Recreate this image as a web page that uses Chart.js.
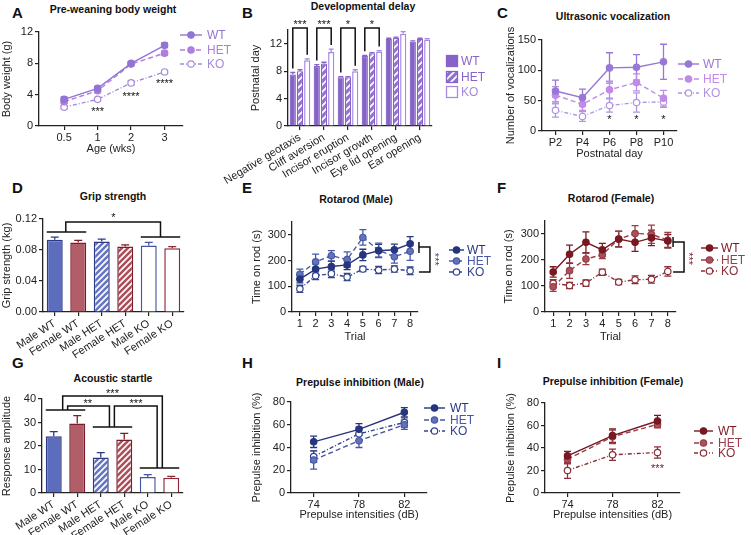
<!DOCTYPE html>
<html>
<head>
<meta charset="utf-8">
<script src="https://cdn.jsdelivr.net/npm/chart.js@4.4.0/dist/chart.umd.min.js"></script>
<style>
body { margin: 0; background: #fff; width: 751px; height: 535px; position: relative; overflow: hidden; font-family: "Liberation Sans", Arial, Helvetica, sans-serif; color: #111; }
.lt { position: absolute; font-weight: bold; font-size: 15px; line-height: 15px; }
.tt { position: absolute; font-weight: bold; font-size: 10.5px; line-height: 12px; white-space: nowrap; transform: translate(-50%, -50%); }
</style>
</head>
<body>
<div class="lt" style="left:12px;top:5px">A</div>
<div class="lt" style="left:242px;top:5px">B</div>
<div class="lt" style="left:497px;top:5px">C</div>
<div class="lt" style="left:12px;top:180px">D</div>
<div class="lt" style="left:242px;top:180px">E</div>
<div class="lt" style="left:497px;top:180px">F</div>
<div class="lt" style="left:12px;top:355px">G</div>
<div class="lt" style="left:242px;top:355px">H</div>
<div class="lt" style="left:497px;top:355px">I</div>
<div class="tt" style="left:113px;top:9px">Pre-weaning body weight</div>
<div class="tt" style="left:363px;top:6px">Developmental delay</div>
<div class="tt" style="left:613px;top:16px">Ultrasonic vocalization</div>
<div class="tt" style="left:113px;top:196px">Grip strength</div>
<div class="tt" style="left:356px;top:199px">Rotarod (Male)</div>
<div class="tt" style="left:611px;top:198px">Rotarod (Female)</div>
<div class="tt" style="left:113px;top:378px">Acoustic startle</div>
<div class="tt" style="left:360px;top:382px">Prepulse inhibition (Male)</div>
<div class="tt" style="left:613px;top:381px">Prepulse inhibition (Female)</div>
<script>
const FONT = '"Liberation Sans", Arial, Helvetica, sans-serif';
const INK = '#222';

// A: body weight
const ageLabels = ['0.5', '1', '2', '3'];
const weightWT = [3.4, 4.8, 8.0, 10.3];
const weightHET = [3.1, 4.5, 7.9, 9.3];
const weightKO = [2.4, 3.4, 5.5, 6.9];
const weightErrWT = [0.3, 0.25, 0.2, 0.3];
const weightErrHET = [0.25, 0.25, 0.2, 0.25];
const weightErrKO = [0.2, 0.2, 0.25, 0.2];

// B: developmental milestones
const devLabels = ['Negative geotaxis', 'Cliff aversion', 'Incisor eruption', 'Incisor growth', 'Eye lid opening', 'Ear opening'];
const devWT = [7.5, 8.75, 7.1, 10.2, 12.7, 12.3];
const devHET = [8.0, 9.1, 7.1, 10.6, 12.85, 12.7];
const devKO = [9.6, 10.8, 8.0, 10.85, 13.45, 12.6];
const devErrWT = [0.3, 0.2, 0.1, 0.1, 0.1, 0.1];
const devErrHET = [0.2, 0.2, 0.1, 0.1, 0.1, 0.1];
const devErrKO = [0.2, 0.4, 0.2, 0.15, 0.3, 0.15];

// C: vocalizations
const dayLabels = ['P2', 'P4', 'P6', 'P8', 'P10'];
const usvWT = [66, 55, 104, 105, 114];
const usvHET = [59, 44, 68, 80, 54];
const usvKO = [34, 24, 42, 47, 48];
const usvErrWT = [18, 14, 25, 21, 29];
const usvErrHET = [14, 10, 14, 14, 13];
const usvErrKO = [11, 8, 11, 16, 9];

// D and G: bar groups
const groupLabels = ['Male WT', 'Female WT', 'Male HET', 'Female HET', 'Male KO', 'Female KO'];
const grip = [0.0932, 0.0897, 0.091, 0.0845, 0.0858, 0.0823];
const gripErr = [0.0035, 0.0026, 0.003, 0.002, 0.004, 0.002];
const startle = [24.2, 29.6, 15.1, 22.8, 6.8, 6.5];
const startleErr = [1.9, 3.3, 2.1, 2.6, 1.0, 0.6];

// E and F: rotarod
const trialLabels = ['1', '2', '3', '4', '5', '6', '7', '8'];
const rotMaleWT = [128, 167, 177, 183, 222, 238, 242, 265];
const rotMaleHET = [147, 195, 219, 204, 290, 240, 215, 236];
const rotMaleKO = [90, 141, 149, 136, 167, 163, 167, 160];
const rotMaleErrWT = [15, 20, 20, 18, 22, 25, 22, 28];
const rotMaleErrHET = [20, 30, 20, 30, 30, 28, 25, 35];
const rotMaleErrKO = [14, 15, 15, 14, 10, 14, 12, 15];
const rotFemWT = [154, 222, 268, 239, 281, 268, 285, 273];
const rotFemHET = [97, 159, 204, 220, 280, 302, 299, 276];
const rotFemKO = [110, 102, 111, 153, 115, 124, 126, 156];
const rotFemErrWT = [20, 35, 40, 25, 30, 35, 30, 25];
const rotFemErrHET = [18, 30, 22, 15, 30, 30, 35, 30];
const rotFemErrKO = [14, 12, 12, 12, 10, 15, 15, 18];

// H and I: prepulse inhibition
const ppiLabels = ['74', '78', '82'];
const ppiMaleWT = [45, 56, 71];
const ppiMaleHET = [29, 46, 60];
const ppiMaleKO = [32, 52, 62];
const ppiMaleErrWT = [5, 5, 4];
const ppiMaleErrHET = [8, 6, 4];
const ppiMaleErrKO = [5, 6, 4];
const ppiFemWT = [33, 51, 64];
const ppiFemHET = [30, 50, 61];
const ppiFemKO = [20, 34, 36];
const ppiFemErrWT = [4, 6, 5];
const ppiFemErrHET = [4, 6, 3];
const ppiFemErrKO = [7, 5, 5];

Chart.defaults.font.family = FONT;
Chart.defaults.font.size = 11;
Chart.defaults.color = INK;
Chart.defaults.animation = false;
Chart.defaults.responsive = false;
Chart.defaults.plugins.legend.display = false;
Chart.defaults.plugins.tooltip.enabled = false;

// error bars: lines get them under the markers, bars get them on top
function drawErrors(chart, bars) {
  const ctx = chart.ctx;
  const ys = chart.scales.y;
  chart.data.datasets.forEach((ds, di) => {
    if (!ds.errors) return;
    const isBar = chart.config.type === 'bar';
    if (isBar !== bars) return;
    const meta = chart.getDatasetMeta(di);
    ctx.save();
    ctx.lineWidth = 1.3;
    ctx.setLineDash([]);
    meta.data.forEach((el, i) => {
      const d = ds.data[i];
      const v = typeof d === 'object' ? d.y : d;
      const e = ds.errors[i];
      const cap = ds.errCap || 3.5;
      const top = ys.getPixelForValue(v + e);
      const bot = isBar ? el.y : ys.getPixelForValue(v - e);
      ctx.strokeStyle = Array.isArray(ds.borderColor) ? ds.borderColor[i] : ds.borderColor;
      ctx.beginPath();
      ctx.moveTo(el.x, bot);
      ctx.lineTo(el.x, top);
      ctx.moveTo(el.x - cap, top);
      ctx.lineTo(el.x + cap, top);
      if (!isBar) {
        ctx.moveTo(el.x - cap, bot);
        ctx.lineTo(el.x + cap, bot);
      }
      ctx.stroke();
    });
    ctx.restore();
  });
}
Chart.register({
  id: 'errorBars',
  beforeDatasetsDraw(chart) { drawErrors(chart, false); },
  afterDatasetsDraw(chart) { drawErrors(chart, true); }
});

// significance brackets and stars, in data units
Chart.register({
  id: 'notes',
  afterDraw(chart, args, o) {
    const { ctx } = chart;
    const x = chart.scales.x, y = chart.scales.y;
    ctx.save();
    (o.paths || []).forEach(p => {
      ctx.strokeStyle = '#111';
      ctx.lineWidth = 1.5;
      ctx.beginPath();
      p.forEach(([a, b], k) => {
        const px = x.getPixelForValue(a), py = y.getPixelForValue(b);
        if (k) ctx.lineTo(px, py); else ctx.moveTo(px, py);
      });
      ctx.stroke();
    });
    (o.labels || []).forEach(l => {
      ctx.save();
      ctx.translate(x.getPixelForValue(l.x), y.getPixelForValue(l.y));
      if (l.rot) ctx.rotate(Math.PI / 2);
      ctx.font = `11px ${FONT}`;
      ctx.fillStyle = l.color || '#111';
      ctx.textAlign = 'center';
      ctx.textBaseline = 'middle';
      ctx.fillText(l.t, 0, 2);
      ctx.restore();
    });
    ctx.restore();
  }
});

// legends drawn beside the plot
Chart.register({
  id: 'keys',
  afterDraw(chart, args, o) {
    if (!o.ys) return;
    const ctx = chart.ctx;
    ctx.save();
    ctx.font = `12px ${FONT}`;
    ctx.textBaseline = 'middle';
    chart.data.datasets.forEach((ds, i) => {
      const y = o.ys[i] - o.oy;
      const col = ds.keyColor || ds.borderColor;
      if (o.box) {
        const bx = o.x0 - o.ox;
        ctx.fillStyle = ds.backgroundColor;
        ctx.fillRect(bx, y - 6, 12, 12);
        ctx.strokeStyle = ds.borderColor;
        ctx.lineWidth = 1.3;
        ctx.strokeRect(bx + 0.5, y - 5.5, 11, 11);
      } else {
        const a = o.x0 - o.ox, b = o.x1 - o.ox;
        ctx.strokeStyle = ds.borderColor;
        ctx.lineWidth = ds.borderWidth;
        ctx.setLineDash(ds.borderDash || []);
        ctx.beginPath();
        ctx.moveTo(a, y);
        ctx.lineTo(b, y);
        ctx.stroke();
        ctx.setLineDash([]);
        ctx.beginPath();
        ctx.arc((a + b) / 2, y, ds.pointRadius, 0, Math.PI * 2);
        ctx.fillStyle = ds.pointBackgroundColor;
        ctx.fill();
        ctx.lineWidth = ds.pointBorderWidth;
        ctx.stroke();
      }
      ctx.fillStyle = col;
      ctx.fillText(ds.label, o.tx - o.ox, y + 0.5);
    });
    ctx.restore();
  }
});

function hatch(bg, fg, n) {
  const p = document.createElement('canvas');
  p.width = n; p.height = n;
  const c = p.getContext('2d');
  c.fillStyle = bg;
  c.fillRect(0, 0, n, n);
  c.strokeStyle = fg;
  c.lineWidth = 1.7;
  c.beginPath();
  c.moveTo(-1, n + 1); c.lineTo(n + 1, -1);
  c.moveTo(-2, 2); c.lineTo(2, -2);
  c.moveTo(n - 2, n + 2); c.lineTo(n + 2, n - 2);
  c.stroke();
  return document.createElement('canvas').getContext('2d').createPattern(p, 'repeat');
}

function addCanvas(box) {
  const c = document.createElement('canvas');
  c.width = box.w; c.height = box.h;
  c.style.cssText = `position:absolute;left:${box.x}px;top:${box.y}px;width:${box.w}px;height:${box.h}px`;
  document.body.appendChild(c);
  return c;
}

// padding and axis sizes so the plot area lands where the figure has it
function frame(box, area, yTitleX, xTitleY, xh) {
  const lh = 13.2;
  const pl = Math.max(0, yTitleX - lh / 2 - box.x);
  const xH = xTitleY ? xTitleY + lh / 2 - area.b : xh;
  return {
    box,
    padding: { left: pl, top: area.t - box.y, right: box.x + box.w - area.r, bottom: box.y + box.h - area.b - xH },
    yw: area.l - box.x - pl,
    xh: xH
  };
}

function xAxis(f, title, rot) {
  return {
    offset: true,
    grid: { drawOnChartArea: false, offset: false, tickLength: 4, color: INK, lineWidth: 1.2 },
    border: { color: INK, width: 1.3 },
    ticks: { color: INK, font: { size: 11 }, padding: 1, autoSkip: false, maxRotation: rot || 0, minRotation: rot || 0 },
    title: { display: !!title, text: title, color: INK, font: { size: 11 }, padding: 0 },
    afterFit: s => { s.height = f.xh; }
  };
}
function yAxis(f, title, max, step, fmt) {
  return {
    min: 0, max,
    grid: { drawOnChartArea: false, tickLength: 4, color: INK, lineWidth: 1.2 },
    border: { color: INK, width: 1.3 },
    ticks: { stepSize: step, color: INK, font: { size: 11 }, padding: 2, callback: fmt || (v => v) },
    title: { display: true, text: title, color: INK, font: { size: 11 }, padding: 0 },
    afterFit: s => { s.width = f.yw; }
  };
}
function lineSet(label, data, errors, color, fill, dash, keyColor) {
  return {
    label, data, errors, borderColor: color, backgroundColor: fill,
    pointBackgroundColor: fill, pointBorderColor: color, pointRadius: 3.2, pointBorderWidth: 1.2,
    borderWidth: 1.4, borderDash: dash, tension: 0, fill: false, keyColor
  };
}
function keyOpts(f, x0, x1, tx, ys, box) {
  return { ox: f.box.x, oy: f.box.y, x0, x1, tx, ys, box };
}
function lineChart(f, labels, sets, xOpt, yOpt, keys, notes) {
  return new Chart(addCanvas(f.box), {
    type: 'line',
    data: { labels, datasets: sets },
    options: {
      layout: { padding: f.padding },
      scales: { x: xOpt, y: yOpt },
      plugins: { keys, notes }
    }
  });
}

const HET_DASH = [5, 3];
const KO_DASH = [4, 2, 1, 2];

// ---- A
const fA = frame({ x: 0, y: 0, w: 250, h: 175 }, { l: 39, t: 32, r: 183, b: 126 }, 6, 149);
const xA = xAxis(fA, 'Age (wks)');
xA.type = 'linear';
xA.offset = false;
xA.min = -0.75;
xA.max = 3.55;
xA.afterBuildTicks = s => { s.ticks = ageLabels.map((_, i) => ({ value: i })); };
xA.ticks.callback = v => ageLabels[v];
const toXY = arr => arr.map((v, i) => ({ x: i, y: v }));
lineChart(fA, null, [
  lineSet('WT', toXY(weightWT), weightErrWT, '#9274d4', '#9274d4', []),
  lineSet('HET', toXY(weightHET), weightErrHET, '#b07ede', '#b07ede', HET_DASH),
  lineSet('KO', toXY(weightKO), weightErrKO, '#a48cdb', '#ffffff', KO_DASH)
], xA, yAxis(fA, 'Body weight (g)', 12, 2),
  keyOpts(fA, 180, 202, 207, [35, 50, 64]),
  { labels: [{ x: 1, y: 2.0, t: '***' }, { x: 2, y: 3.9, t: '****' }, { x: 3, y: 5.6, t: '****' }] });

// ---- B
const fB = frame({ x: 190, y: 0, w: 310, h: 192 }, { l: 288, t: 30, r: 432, b: 126 }, 256, 0, 66);
const devPaths = [], devStars = [];
[0, 1, 2, 3].forEach(i => {
  devPaths.push([[i - 0.3, devWT[i] + devErrWT[i] + 0.6], [i - 0.3, 14.3], [i + 0.3, 14.3], [i + 0.3, devKO[i] + devErrKO[i] + 0.6]]);
  devStars.push({ x: i, y: 15.0, t: i < 2 ? '***' : '*' });
});
new Chart(addCanvas(fB.box), {
  type: 'bar',
  data: {
    labels: devLabels,
    datasets: [
      { label: 'WT', data: devWT, errors: devErrWT, backgroundColor: '#8763c9', borderColor: '#8763c9', borderWidth: 1.2, errCap: 2.5 },
      { label: 'HET', data: devHET, errors: devErrHET, backgroundColor: hatch('#9270d0', '#ffffff', 7), borderColor: '#8763c9', borderWidth: 1.2, errCap: 2.5 },
      { label: 'KO', data: devKO, errors: devErrKO, backgroundColor: '#ffffff', borderColor: '#a68ade', borderWidth: 1.5, errCap: 2.5 }
    ]
  },
  options: {
    layout: { padding: fB.padding },
    datasets: { bar: { categoryPercentage: 0.9, barPercentage: 0.86 } },
    scales: { x: xAxis(fB, '', 31), y: yAxis(fB, 'Postnatal day', 14, 2) },
    plugins: {
      keys: keyOpts(fB, 446, 0, 461, [61, 77, 92], true),
      notes: { paths: devPaths, labels: devStars }
    }
  }
});

// ---- C
const fC = frame({ x: 500, y: 0, w: 251, h: 175 }, { l: 542, t: 40, r: 677, b: 131 }, 511, 154);
const xC = xAxis(fC, 'Postnatal day');
lineChart(fC, dayLabels, [
  lineSet('WT', usvWT, usvErrWT, '#9878d6', '#9878d6', []),
  lineSet('HET', usvHET, usvErrHET, '#c08ae6', '#c08ae6', HET_DASH),
  lineSet('KO', usvKO, usvErrKO, '#b096e2', '#ffffff', KO_DASH)
], xC, yAxis(fC, 'Number of vocalizations', 150, 50),
  keyOpts(fC, 678, 699, 703, [64, 79, 93]),
  { labels: [{ x: 2, y: 22, t: '*' }, { x: 3, y: 22, t: '*' }, { x: 4, y: 22, t: '*' }] });

// colours for the sex split
const MALE = '#2d3b87', FEMALE = '#7a1f29';
function sexBars(values, errors) {
  return [{
    data: values, errors, errCap: 4,
    backgroundColor: ['#5d6dbd', '#b25e68', hatch('#6576c2', '#ffffff', 6), hatch('#ad4e5a', '#ffffff', 6), '#ffffff', '#ffffff'],
    borderColor: [MALE, FEMALE, MALE, FEMALE, '#4555a2', '#8a2a35'],
    borderWidth: 1.5
  }];
}

// ---- D
const fD = frame({ x: 0, y: 175, w: 250, h: 184 }, { l: 43, t: 219, r: 184, b: 312 }, 6, 0, 47);
new Chart(addCanvas(fD.box), {
  type: 'bar',
  data: { labels: groupLabels, datasets: sexBars(grip, gripErr) },
  options: {
    layout: { padding: fD.padding },
    datasets: { bar: { categoryPercentage: 0.68, barPercentage: 1 } },
    scales: { x: xAxis(fD, '', 33), y: yAxis(fD, 'Grip strength (kg)', 0.12, 0.04, v => v.toFixed(2)) },
    plugins: {
      notes: {
        paths: [
          [[-0.34, 0.1032], [1.34, 0.1032]],
          [[0.47, 0.1032], [0.47, 0.1161], [4.5, 0.1161], [4.5, 0.0968]],
          [[3.66, 0.0968], [5.34, 0.0968]]
        ],
        labels: [{ x: 2.5, y: 0.1235, t: '*' }]
      }
    }
  }
});

// ---- E
const fE = frame({ x: 250, y: 175, w: 250, h: 175 }, { l: 292, t: 222, r: 418, b: 312 }, 257, 337);
lineChart(fE, trialLabels, [
  lineSet('WT', rotMaleWT, rotMaleErrWT, '#26357e', '#26357e', []),
  lineSet('HET', rotMaleHET, rotMaleErrHET, '#4858a6', '#6373bb', HET_DASH),
  lineSet('KO', rotMaleKO, rotMaleErrKO, '#34448c', '#ffffff', KO_DASH)
], xAxis(fE, 'Trial'), yAxis(fE, 'Time on rod (s)', 350, 50),
  keyOpts(fE, 449, 464, 467, [250, 261, 272]),
  {
    paths: [[[7.56, 272], [7.56, 229]], [[7.56, 253], [8.26, 253], [8.26, 156], [7.56, 156]]],
    labels: [{ x: 8.66, y: 205, t: '***', rot: true, color: '#3a4580' }]
  });

// ---- F
const fF = frame({ x: 500, y: 175, w: 251, h: 175 }, { l: 545, t: 221, r: 676, b: 312 }, 509, 337);
lineChart(fF, trialLabels, [
  lineSet('WT', rotFemWT, rotFemErrWT, '#781820', '#781820', []),
  lineSet('HET', rotFemHET, rotFemErrHET, '#973e48', '#a8525c', HET_DASH),
  lineSet('KO', rotFemKO, rotFemErrKO, '#8a2e37', '#ffffff', KO_DASH)
], xAxis(fF, 'Trial'), yAxis(fF, 'Time on rod (s)', 350, 50),
  keyOpts(fF, 701, 718, 721, [248, 260, 271]),
  {
    paths: [[[7.32, 288], [7.32, 250]], [[7.32, 269], [7.99, 269], [7.99, 154], [7.32, 154]]],
    labels: [{ x: 8.38, y: 205, t: '***', rot: true, color: '#781820' }]
  });

// ---- G
const fG = frame({ x: 0, y: 350, w: 250, h: 185 }, { l: 42, t: 399, r: 183, b: 493 }, 6, 0, 42);
new Chart(addCanvas(fG.box), {
  type: 'bar',
  data: { labels: groupLabels, datasets: sexBars(startle, startleErr) },
  options: {
    layout: { padding: fG.padding },
    datasets: { bar: { categoryPercentage: 0.68, barPercentage: 1 } },
    scales: { x: xAxis(fG, '', 33), y: yAxis(fG, 'Response amplitude', 40, 10) },
    plugins: {
      notes: {
        paths: [
          [[-0.34, 35.3], [1.34, 35.3]],
          [[0.38, 35.3], [0.38, 41.3], [4.62, 41.3], [4.62, 10.6]],
          [[0.59, 35.3], [0.59, 37.0], [2.37, 37.0], [2.37, 28.1]],
          [[1.66, 28.1], [3.34, 28.1]],
          [[2.58, 28.1], [2.58, 37.0], [4.4, 37.0], [4.4, 10.6]],
          [[3.66, 10.6], [5.34, 10.6]]
        ],
        labels: [{ x: 2.5, y: 43.2, t: '***' }, { x: 1.45, y: 38.6, t: '**' }, { x: 3.5, y: 38.6, t: '***' }]
      }
    }
  }
});

// ---- H
const fH = frame({ x: 250, y: 350, w: 250, h: 185 }, { l: 291, t: 402, r: 427, b: 493 }, 257, 515);
lineChart(fH, ppiLabels, [
  lineSet('WT', ppiMaleWT, ppiMaleErrWT, '#26357e', '#26357e', []),
  lineSet('HET', ppiMaleHET, ppiMaleErrHET, '#4858a6', '#6373bb', HET_DASH),
  lineSet('KO', ppiMaleKO, ppiMaleErrKO, '#34448c', '#ffffff', KO_DASH)
], xAxis(fH, 'Prepulse intensities (dB)'), yAxis(fH, 'Prepulse inhibition (%)', 80, 20),
  keyOpts(fH, 424, 445, 450, [408, 420, 431]), {});

// ---- I
const fI = frame({ x: 500, y: 350, w: 251, h: 185 }, { l: 545, t: 403, r: 680, b: 493 }, 511, 515);
lineChart(fI, ppiLabels, [
  lineSet('WT', ppiFemWT, ppiFemErrWT, '#781820', '#781820', []),
  lineSet('HET', ppiFemHET, ppiFemErrHET, '#973e48', '#a8525c', HET_DASH),
  lineSet('KO', ppiFemKO, ppiFemErrKO, '#8a2e37', '#ffffff', KO_DASH)
], xAxis(fI, 'Prepulse intensities (dB)'), yAxis(fI, 'Prepulse inhibition (%)', 80, 20),
  keyOpts(fI, 694, 713, 718, [431, 443, 453]),
  { labels: [{ x: 2, y: 23, t: '***', color: '#781820' }] });
</script>
</body>
</html>
